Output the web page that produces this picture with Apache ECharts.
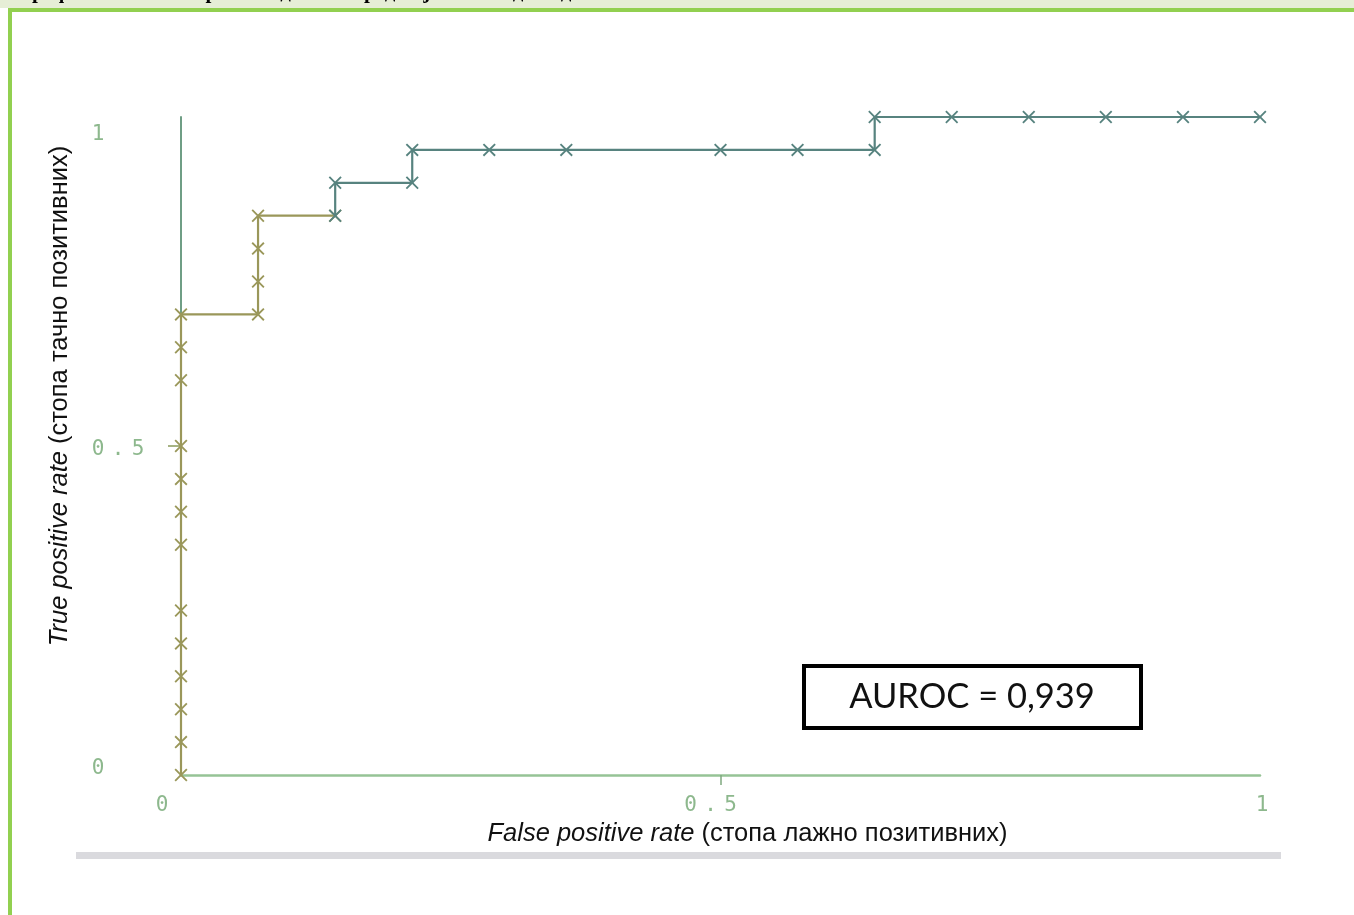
<!DOCTYPE html>
<html>
<head>
<meta charset="utf-8">
<script src="https://cdn.jsdelivr.net/npm/echarts@6/dist/echarts.min.js"></script>
<style>
html,body{margin:0;padding:0;background:#fff;}
#c{width:1354px;height:915px;}
</style>
</head>
<body>
<div id="c"></div>
<script>
// ROC curve (FPR steps of 1/14, TPR steps of 0.05)
const fprLow = [0,0,0,0,0,0,0,0,0,0,0,0,0,0.0714,0.0714,0.0714,0.0714,0.1429];
const tprLow = [0,0.05,0.1,0.15,0.2,0.25,0.35,0.4,0.45,0.5,0.6,0.65,0.7,0.7,0.75,0.8,0.85,0.85];
const fprHigh = [0.1429,0.1429,0.2143,0.2143,0.2857,0.3571,0.5,0.5714,0.6429,0.6429,0.7143,0.7857,0.8571,0.9286,1];
const tprHigh = [0.85,0.9,0.9,0.95,0.95,0.95,0.95,0.95,0.95,1,1,1,1,1,1];
const tickValues = [0, 0.5, 1];
const tickLabels = ['0', '0.5', '1'];
const xTitleItalic = 'False positive rate';
const xTitleRest = ' (стопа лажно позитивних)';
const yTitleItalic = 'True positive rate';
const yTitleRest = ' (стопа тачно позитивних)';
const aurocText = 'AUROC = 0,939';
const captionText = 'Графикон 2. ROC крива модела за предвиђање исхода код испитаника';

const olive = '#9a975a';
const teal = '#57837f';
const xMark = 'path://M0,1L1,0L5,4L9,0L10,1L6,5L10,9L9,10L5,6L1,10L0,9L4,5Z';

function pairs(xs, ys){ return xs.map((x,i)=>[x, ys[i]]); }

// one rich token per character so the monospace digits get the wide spacing of the picture
function spaced(s, style, lastStyle){
  const ch = s.split('');
  return ch.map((c,i)=>'{'+(i===ch.length-1 && lastStyle ? lastStyle : style)+'|'+c+'}').join('');
}

const mono = {fontFamily:'DejaVu Sans Mono', fontSize:21, color:'#8db88d', width:20, align:'center'};

const chart = echarts.init(document.getElementById('c'), null, {renderer:'canvas'});
chart.setOption({
  backgroundColor:'#ffffff',
  animation:false,
  grid:{left:181, right:94, top:117, bottom:140, containLabel:false},
  xAxis:{
    type:'value', min:0, max:1, interval:0.5,
    axisLine:{show:true, lineStyle:{color:'#96c396', width:2.5}},
    axisTick:{show:true, customValues:[0.5], length:10, inside:false, lineStyle:{color:'#7fa87f', width:1.5}},
    splitLine:{show:false},
    axisLabel:{
      customValues:tickValues, margin:20,
      formatter:function(v){
        const i = tickValues.indexOf(v);
        if (i===0) return spaced(tickLabels[i], 'x0');
        if (i===1) return spaced(tickLabels[i], 'x1', 'x1e');
        return spaced(tickLabels[i], 'x2');
      },
      rich:{
        x0:Object.assign({}, mono, {padding:[0,38,0,0]}),
        x1:Object.assign({}, mono),
        x1e:Object.assign({}, mono, {padding:[0,20,0,0]}),
        x2:Object.assign({}, mono, {padding:[0,0,0,4]})
      }
    },
    name:'{i|'+xTitleItalic+'}'+xTitleRest,
    nameLocation:'middle', nameGap:46,
    nameTextStyle:{fontFamily:'Liberation Sans', fontSize:25.5, color:'#111', padding:[0,0,0,54],
      rich:{i:{fontStyle:'italic', fontFamily:'Liberation Sans', fontSize:25.5, color:'#111'}}}
  },
  yAxis:{
    type:'value', min:0, max:1, interval:0.5,
    axisLine:{show:true, lineStyle:{color:'#6f9e85', width:2}},
    axisTick:{show:true, customValues:[0.5], length:13, lineStyle:{color:'#8a9a5a', width:1.5}},
    splitLine:{show:false},
    axisLabel:{
      customValues:tickValues, margin:93, align:'left',
      formatter:function(v){
        const i = tickValues.indexOf(v);
        const style = i===0 ? 'b' : (i===1 ? 'm' : 't');
        return spaced(tickLabels[i], style);
      },
      rich:{
        t:Object.assign({}, mono, {padding:[36,0,0,0]}),
        m:Object.assign({}, mono, {padding:[8,0,0,0]}),
        b:Object.assign({}, mono, {padding:[0,0,12,0]})
      }
    },
    name:'{i|'+yTitleItalic+'}'+yTitleRest,
    nameLocation:'middle', nameGap:108, nameRotate:90,
    nameTextStyle:{fontFamily:'Liberation Sans', fontSize:25.5, color:'#111', padding:[0,0,0,100],
      rich:{i:{fontStyle:'italic', fontFamily:'Liberation Sans', fontSize:25.5, color:'#111'}}}
  },
  series:[
    {
      type:'line', data:pairs(fprLow, tprLow), symbol:xMark, symbolSize:13,
      lineStyle:{color:olive, width:2.2}, itemStyle:{color:olive}, z:3
    },
    {
      type:'line', data:pairs(fprHigh, tprHigh), symbol:xMark, symbolSize:13,
      lineStyle:{color:teal, width:2.2}, itemStyle:{color:teal}, z:4
    }
  ],
  graphic:[
    {type:'rect', left:0, top:0, shape:{width:1354, height:8}, style:{fill:'#e6eed6'}, z:1},
    {type:'text', left:20, top:-18, style:{text:captionText, font:'bold 21px "Liberation Serif"', fill:'#000'}, z:2},
    {type:'rect', left:8, top:8, shape:{width:1346, height:4}, style:{fill:'#92d050'}, z:3},
    {type:'rect', left:8, top:8, shape:{width:4, height:907}, style:{fill:'#92d050'}, z:3},
    {type:'rect', left:76, top:852, shape:{width:1205, height:7}, style:{fill:'#dadade'}, z:1},
    {type:'rect', left:802, top:664, shape:{width:337, height:62},
      style:{fill:'#fff', stroke:'#000', lineWidth:4}, z:10},
    {type:'text', x:972, y:697, style:{text:aurocText, font:'34.5px Lato', fill:'#111', align:'center', verticalAlign:'middle'}, z:11}
  ]
});
</script>
</body>
</html>
